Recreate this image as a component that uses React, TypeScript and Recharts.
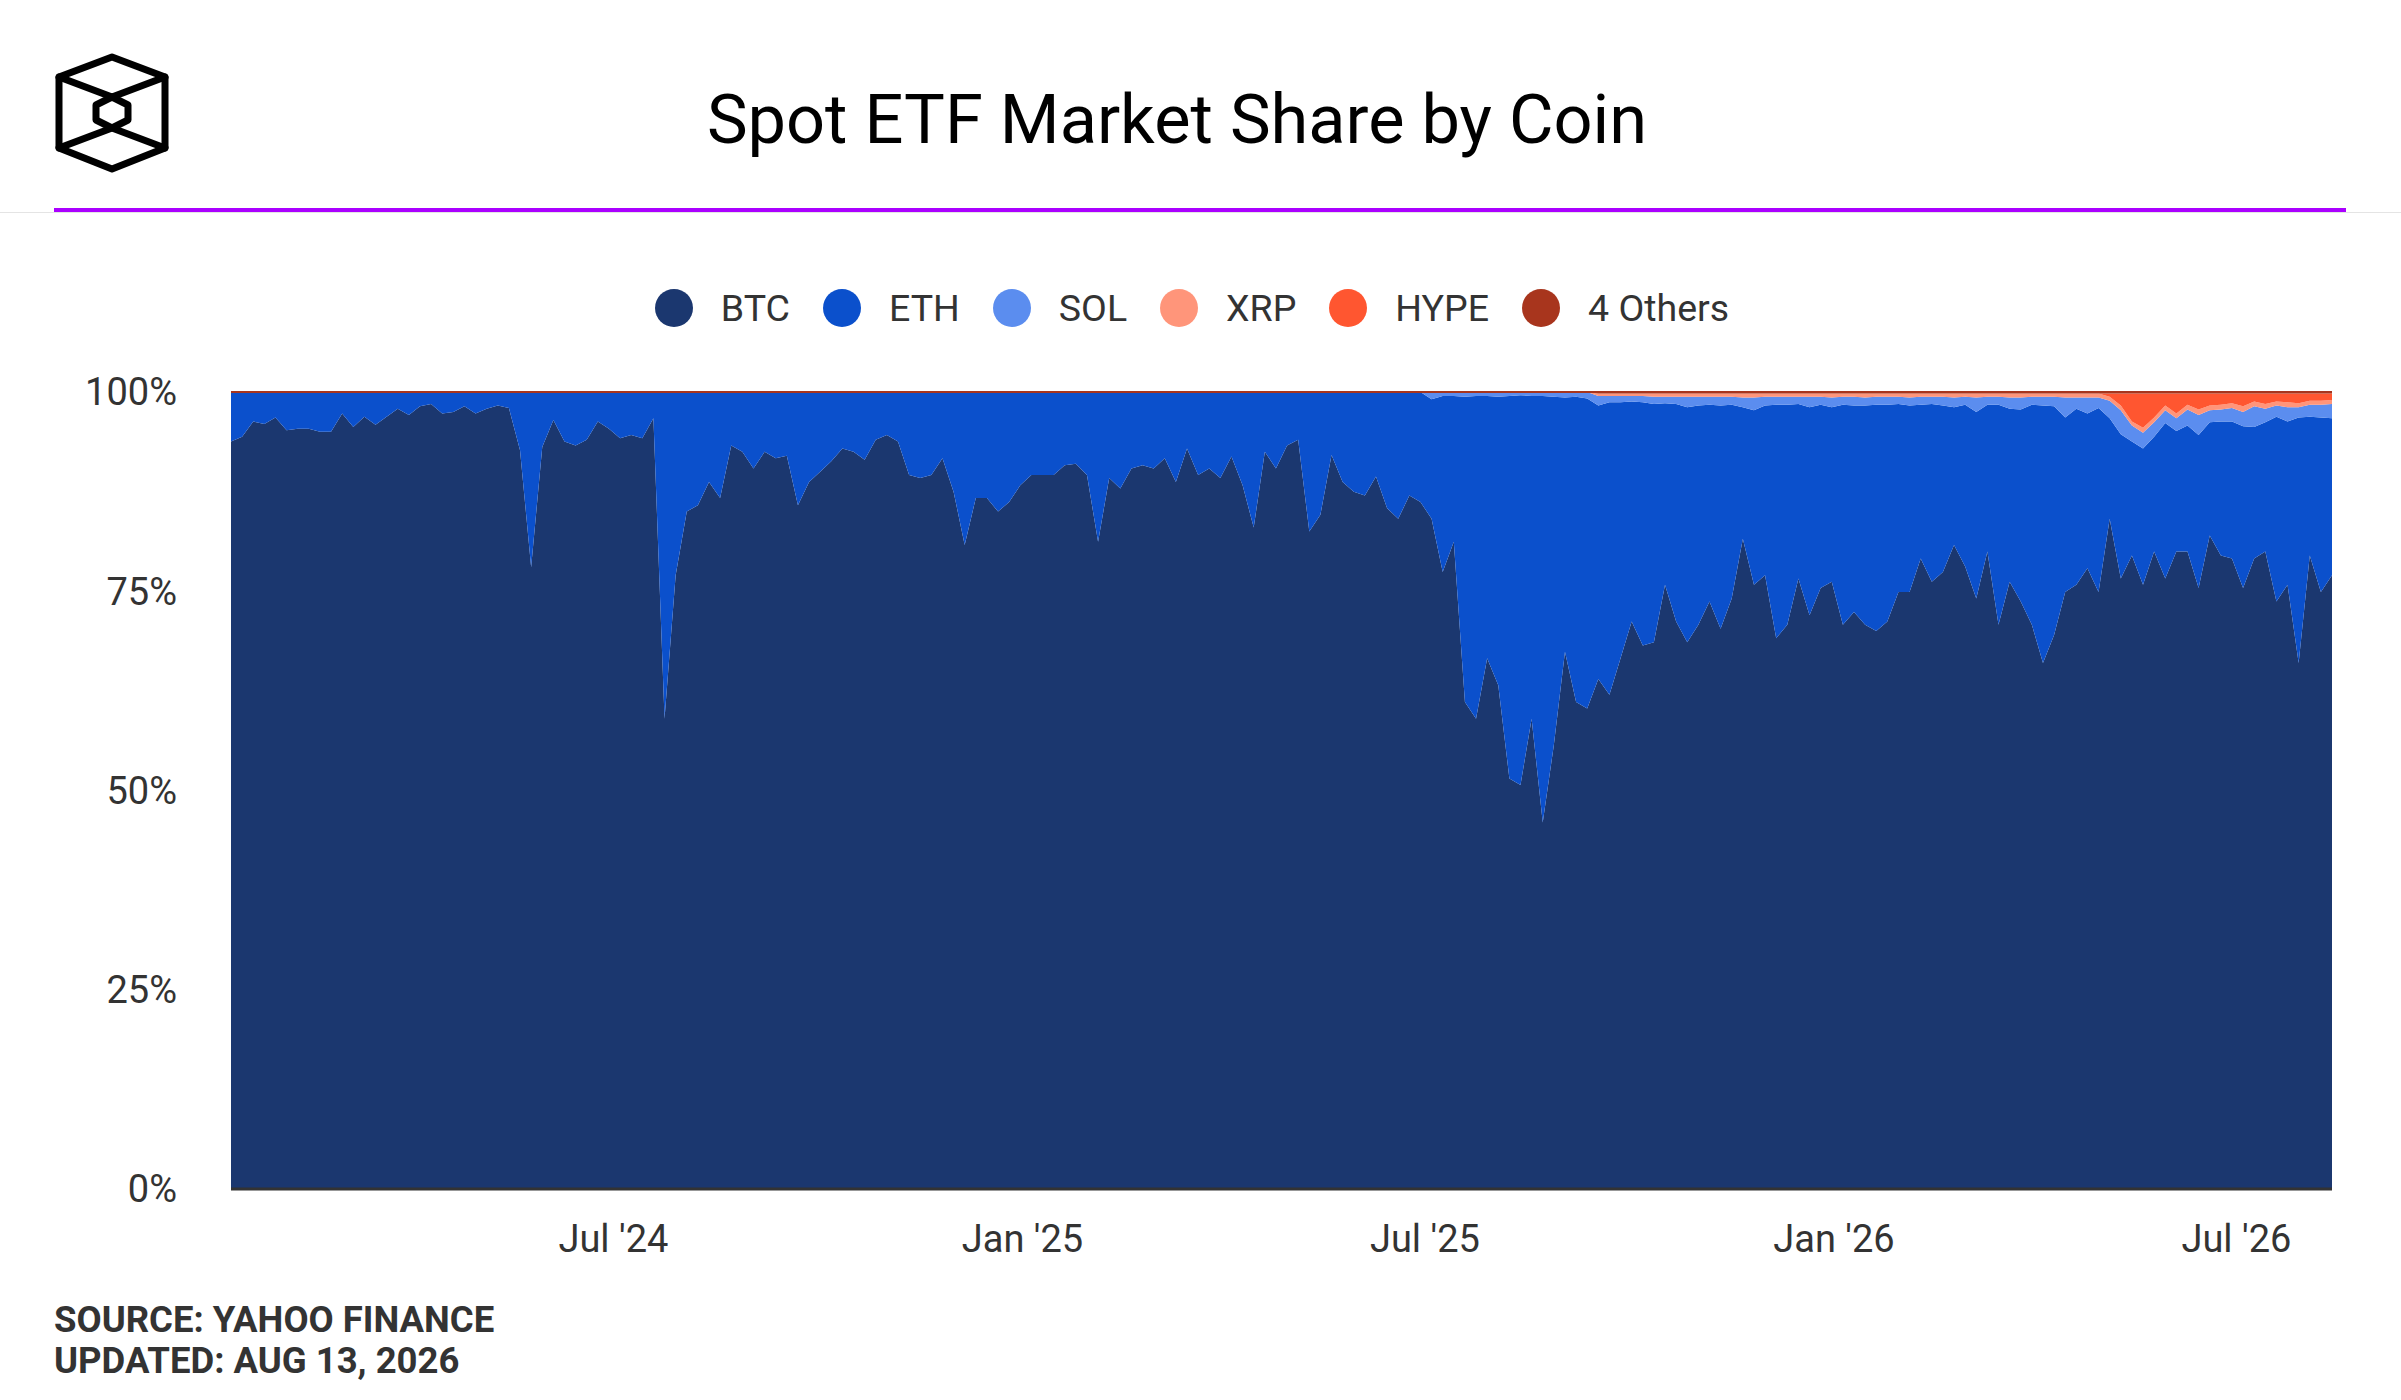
import { AreaChart, Area, XAxis, YAxis } from "recharts";

// one sample every 5 days, starting Jan 11 2024 (day 0) up to Aug 13 2026 (day 945)
const STEP_DAYS = 5;

// shares in %
const btc = [
  93.8, 94.4, 96.3, 96, 96.8, 95.2, 95.4, 95.4, 95, 95, 97.3, 95.6, 96.9, 95.9, 96.9, 97.9, 97.1, 98.2, 98.5, 97.3,
  97.5, 98.2, 97.3, 97.9, 98.3, 98, 92.7, 78, 93.1, 96.5, 93.8, 93.3, 94, 96.3, 95.4, 94.2, 94.6, 94.2, 96.7, 59,
  77, 85, 85.8, 88.7, 86.7, 93.3, 92.5, 90.4, 92.5, 91.7, 92, 85.8, 88.7, 90, 91.3, 92.9, 92.5, 91.5, 94, 94.6,
  93.8, 89.6, 89.2, 89.6, 91.7, 87.5, 80.8, 86.7, 86.7, 85, 86.2, 88.3, 89.6, 89.6, 89.6, 90.8, 91, 89.6, 81.2, 89.2,
  87.9, 90.4, 90.8, 90.4, 91.7, 88.7, 92.9, 89.6, 90.4, 89.2, 91.9, 88.3, 83, 92.5, 90.4, 93.3, 94, 82.5, 84.6, 92.1,
  88.7, 87.5, 87, 89.4, 85.4, 84.1, 87, 86.2, 84.1, 77.4, 81.2, 61.1, 59, 66.6, 63.2, 51.5, 50.7, 59, 46, 55.7,
  67.4, 61.1, 60.3, 64, 62, 66.6, 71.2, 68.2, 68.6, 75.8, 71.2, 68.6, 70.8, 73.7, 70.3, 74.1, 81.6, 75.8, 77, 69.1,
  70.8, 76.6, 72, 75.4, 76.2, 70.8, 72.4, 70.8, 70, 71.2, 74.9, 74.9, 79.1, 76.2, 77.4, 80.8, 78.1, 74.1, 80, 70.8,
  76.2, 73.7, 70.8, 66, 69.5, 74.9, 75.8, 77.9, 74.9, 84.1, 76.6, 79.5, 75.8, 80, 76.6, 80, 80, 75.4, 82, 79.5,
  79.1, 75.4, 79.1, 80, 73.7, 75.8, 66, 79.5, 74.9, 77,
];

const eth = [
  6.2, 5.6, 3.7, 4, 3.2, 4.8, 4.6, 4.6, 5, 5, 2.7, 4.4, 3.1, 4.1, 3.1, 2.1, 2.9, 1.8, 1.5, 2.7,
  2.5, 1.8, 2.7, 2.1, 1.7, 2, 7.3, 22, 6.9, 3.5, 6.2, 6.7, 6, 3.7, 4.6, 5.8, 5.4, 5.8, 3.3, 41,
  23, 15, 14.2, 11.3, 13.3, 6.7, 7.5, 9.6, 7.5, 8.3, 8, 14.2, 11.3, 10, 8.7, 7.1, 7.5, 8.5, 6, 5.4,
  6.2, 10.4, 10.8, 10.4, 8.3, 12.5, 19.2, 13.3, 13.3, 15, 13.8, 11.7, 10.4, 10.4, 10.4, 9.2, 9, 10.4, 18.8, 10.8,
  12.1, 9.6, 9.2, 9.6, 8.3, 11.3, 7.1, 10.4, 9.6, 10.8, 8.1, 11.7, 17, 7.5, 9.6, 6.7, 6, 17.5, 15.4, 7.9,
  11.3, 12.5, 13, 10.6, 14.6, 15.9, 13, 13.8, 15, 22.1, 18.3, 38.3, 40.5, 32.9, 36.2, 48, 48.9, 40.5, 53.5, 43.7,
  31.9, 38.3, 38.9, 34.3, 36.7, 32.1, 27.6, 30.5, 29.9, 22.8, 27.3, 29.5, 27.5, 24.7, 28, 24.3, 16.5, 21.9, 21.3, 29.3,
  27.6, 21.9, 26.1, 23, 21.9, 27.6, 25.9, 27.5, 28.4, 27.2, 23.6, 23.4, 19.3, 22.3, 20.9, 17.3, 20.3, 23.4, 18.4, 27.6,
  21.7, 24.1, 27.6, 32.3, 28.7, 21.9, 22.1, 19.4, 23.1, 12.6, 18.1, 14.3, 17.1, 14.4, 19.5, 15.1, 15.8, 19.2, 14.2, 16.8,
  17.2, 20.3, 16.5, 16.2, 23.2, 20.5, 30.8, 17.4, 21.9, 19.7,
];

const sol = [
  0, 0, 0, 0, 0, 0, 0, 0, 0, 0, 0, 0, 0, 0, 0, 0, 0, 0, 0, 0,
  0, 0, 0, 0, 0, 0, 0, 0, 0, 0, 0, 0, 0, 0, 0, 0, 0, 0, 0, 0,
  0, 0, 0, 0, 0, 0, 0, 0, 0, 0, 0, 0, 0, 0, 0, 0, 0, 0, 0, 0,
  0, 0, 0, 0, 0, 0, 0, 0, 0, 0, 0, 0, 0, 0, 0, 0, 0, 0, 0, 0,
  0, 0, 0, 0, 0, 0, 0, 0, 0, 0, 0, 0, 0, 0, 0, 0, 0, 0, 0, 0,
  0, 0, 0, 0, 0, 0, 0, 0, 0.9, 0.5, 0.5, 0.6, 0.5, 0.5, 0.6, 0.5, 0.4, 0.5, 0.5, 0.6,
  0.7, 0.6, 0.8, 1.2, 0.8, 0.8, 0.7, 0.8, 0.9, 0.8, 0.9, 1.3, 1.1, 1, 1.1, 1, 1.2, 1.6, 1.1, 1,
  1, 0.9, 1.3, 1, 1.2, 1, 1.1, 1, 1, 1, 0.9, 1, 1, 0.9, 1.1, 1.2, 1, 1.8, 1, 1,
  1.4, 1.5, 1, 1.1, 1.2, 2.5, 1.4, 2, 1.3, 2.2, 3, 2, 2, 1.8, 1.6, 1.6, 2, 2.5, 1.5, 1.5,
  1.7, 1.8, 2.6, 1.7, 1.4, 1.8, 1.3, 1.5, 1.6, 1.8,
];

const xrp = [
  0, 0, 0, 0, 0, 0, 0, 0, 0, 0, 0, 0, 0, 0, 0, 0, 0, 0, 0, 0,
  0, 0, 0, 0, 0, 0, 0, 0, 0, 0, 0, 0, 0, 0, 0, 0, 0, 0, 0, 0,
  0, 0, 0, 0, 0, 0, 0, 0, 0, 0, 0, 0, 0, 0, 0, 0, 0, 0, 0, 0,
  0, 0, 0, 0, 0, 0, 0, 0, 0, 0, 0, 0, 0, 0, 0, 0, 0, 0, 0, 0,
  0, 0, 0, 0, 0, 0, 0, 0, 0, 0, 0, 0, 0, 0, 0, 0, 0, 0, 0, 0,
  0, 0, 0, 0, 0, 0, 0, 0, 0, 0, 0, 0, 0, 0, 0, 0, 0, 0, 0, 0,
  0, 0, 0, 0.3, 0.3, 0.3, 0.3, 0.3, 0.4, 0.4, 0.4, 0.4, 0.4, 0.4, 0.4, 0.4, 0.5, 0.5, 0.4, 0.4,
  0.4, 0.4, 0.4, 0.4, 0.5, 0.4, 0.4, 0.5, 0.4, 0.4, 0.4, 0.5, 0.4, 0.4, 0.4, 0.5, 0.4, 0.5, 0.4, 0.4,
  0.5, 0.5, 0.4, 0.4, 0.4, 0.5, 0.5, 0.5, 0.5, 0.5, 0.6, 0.5, 0.6, 0.6, 0.6, 0.6, 0.6, 0.7, 0.6, 0.6,
  0.6, 0.7, 0.6, 0.6, 0.5, 0.6, 0.5, 0.5, 0.5, 0.5,
];

const hype = [
  0, 0, 0, 0, 0, 0, 0, 0, 0, 0, 0, 0, 0, 0, 0, 0, 0, 0, 0, 0,
  0, 0, 0, 0, 0, 0, 0, 0, 0, 0, 0, 0, 0, 0, 0, 0, 0, 0, 0, 0,
  0, 0, 0, 0, 0, 0, 0, 0, 0, 0, 0, 0, 0, 0, 0, 0, 0, 0, 0, 0,
  0, 0, 0, 0, 0, 0, 0, 0, 0, 0, 0, 0, 0, 0, 0, 0, 0, 0, 0, 0,
  0, 0, 0, 0, 0, 0, 0, 0, 0, 0, 0, 0, 0, 0, 0, 0, 0, 0, 0, 0,
  0, 0, 0, 0, 0, 0, 0, 0, 0, 0, 0, 0, 0, 0, 0, 0, 0, 0, 0, 0,
  0, 0, 0, 0, 0, 0, 0, 0, 0, 0, 0, 0, 0, 0, 0, 0, 0, 0, 0, 0,
  0, 0, 0, 0, 0, 0, 0, 0, 0, 0, 0, 0, 0, 0, 0, 0, 0, 0, 0, 0,
  0, 0, 0, 0, 0, 0, 0, 0, 0, 0.4, 1.5, 3.5, 4.3, 3, 1.5, 2.5, 1.4, 2, 1.5, 1.4,
  1.2, 1.6, 1, 1.3, 1, 1.1, 1.2, 0.9, 0.9, 0.8,
];

const others = [
  0, 0, 0, 0, 0, 0, 0, 0, 0, 0, 0, 0, 0, 0, 0, 0, 0, 0, 0, 0,
  0, 0, 0, 0, 0, 0, 0, 0, 0, 0, 0, 0, 0, 0, 0, 0, 0, 0, 0, 0,
  0, 0, 0, 0, 0, 0, 0, 0, 0, 0, 0, 0, 0, 0, 0, 0, 0, 0, 0, 0,
  0, 0, 0, 0, 0, 0, 0, 0, 0, 0, 0, 0, 0, 0, 0, 0, 0, 0, 0, 0,
  0, 0, 0, 0, 0, 0, 0, 0, 0, 0, 0, 0, 0, 0, 0, 0, 0, 0, 0, 0,
  0, 0, 0, 0, 0, 0, 0, 0, 0, 0, 0, 0, 0, 0, 0, 0, 0, 0, 0, 0,
  0, 0, 0, 0.2, 0.2, 0.2, 0.2, 0.2, 0.2, 0.2, 0.2, 0.2, 0.2, 0.2, 0.2, 0.2, 0.2, 0.2, 0.2, 0.2,
  0.2, 0.2, 0.2, 0.2, 0.2, 0.2, 0.2, 0.2, 0.2, 0.2, 0.2, 0.2, 0.2, 0.2, 0.2, 0.2, 0.2, 0.2, 0.2, 0.2,
  0.2, 0.2, 0.2, 0.2, 0.2, 0.2, 0.2, 0.2, 0.2, 0.2, 0.2, 0.2, 0.2, 0.2, 0.2, 0.2, 0.2, 0.2, 0.2, 0.2,
  0.2, 0.2, 0.2, 0.2, 0.2, 0.2, 0.2, 0.2, 0.2, 0.2,
];

// days since Jan 11 2024 of Jul 1 / Jan 1
const xTicks = [172, 356, 537, 721, 902];
const xTickLabels = ["Jul '24", "Jan '25", "Jul '25", "Jan '26", "Jul '26"];
const yTicks = [0, 0.25, 0.5, 0.75, 1];

const series = [
  { key: "btc", name: "BTC", color: "#1b376f" },
  { key: "eth", name: "ETH", color: "#0b50cc" },
  { key: "sol", name: "SOL", color: "#5b8def" },
  { key: "xrp", name: "XRP", color: "#ff957a" },
  { key: "hype", name: "HYPE", color: "#ff5630" },
  { key: "others", name: "4 Others", color: "#a8351d" },
];

const data = btc.map((v, i) => ({
  day: i * STEP_DAYS,
  btc: v,
  eth: eth[i],
  sol: sol[i],
  xrp: xrp[i],
  hype: hype[i],
  others: others[i],
}));

const Logo = () => (
  <svg
    width={200}
    height={200}
    style={{ position: "absolute", left: 0, top: 0 }}
  >
    <g fill='none' stroke='#000' strokeWidth={7} strokeLinejoin='round' strokeLinecap='round'>
      <polygon points='112,57 165,77 165,148 112,169 59,148 59,77' />
      <polygon points='112,97 128,105 128,120 112,128 96,120 96,105' />
      <polyline points='59,77 112,97 165,77' />
      <polyline points='59,148 112,128 165,148' />
    </g>
  </svg>
);

const App = () => {
  return (
    <div
      style={{
        position: "absolute",
        left: 0,
        top: 0,
        width: 2401,
        height: 1400,
        background: "#fff",
        overflow: "hidden",
        fontFamily: "Roboto, sans-serif",
      }}
    >
      <Logo />
      <div
        style={{
          position: "absolute",
          left: 0,
          top: 85,
          width: 2354,
          textAlign: "center",
          fontSize: 68.5,
          lineHeight: "70px",
          color: "#000",
        }}
      >
        Spot ETF Market Share by Coin
      </div>
      <div style={{ position: "absolute", left: 0, top: 212, width: 2401, height: 1, background: "#e4e4e4" }} />
      <div style={{ position: "absolute", left: 54, top: 208, width: 2292, height: 4, background: "#aa00ff" }} />

      <div
        style={{
          position: "absolute",
          left: 0,
          top: 288,
          width: 2384,
          height: 40,
          display: "flex",
          justifyContent: "center",
          alignItems: "center",
        }}
      >
        {series.map((s, i) => (
          <div
            key={s.key}
            style={{
              display: "flex",
              alignItems: "center",
              marginRight: i < series.length - 1 ? 33 : 0,
            }}
          >
            <div
              style={{
                width: 38,
                height: 38,
                borderRadius: "50%",
                background: s.color,
                marginRight: 28,
              }}
            />
            <span style={{ fontSize: 37.5, color: "#333" }}>{s.name}</span>
          </div>
        ))}
      </div>

      <div style={{ position: "absolute", left: 0, top: 0 }}>
        <AreaChart
          width={2401}
          height={1400}
          data={data}
          stackOffset='expand'
          margin={{ top: 392, right: 69, bottom: 151, left: 81 }}
        >
          <XAxis
            dataKey='day'
            type='number'
            domain={[0, 945]}
            ticks={xTicks}
            tickFormatter={(v) => xTickLabels[xTicks.indexOf(v)]}
            height={60}
            tickLine={false}
            tickSize={0}
            tickMargin={36}
            axisLine={{ stroke: "#333", strokeWidth: 3 }}
            tick={{ fontSize: 38, fill: "#333" }}
          />
          <YAxis
            domain={[0, 1]}
            ticks={yTicks}
            tickFormatter={(v) => `${Math.round(v * 100)}%`}
            width={150}
            tickLine={false}
            tickSize={0}
            tickMargin={54}
            axisLine={false}
            tick={{ fontSize: 38, fill: "#333" }}
          />
          {series.map((s) => (
            <Area
              key={s.key}
              type='linear'
              dataKey={s.key}
              name={s.name}
              stackId='1'
              fill={s.color}
              fillOpacity={1}
              stroke={s.key === "others" ? s.color : "none"}
              strokeWidth={s.key === "others" ? 2 : 0}
              dot={false}
              activeDot={false}
              isAnimationActive={false}
            />
          ))}
        </AreaChart>
      </div>

      <div
        style={{
          position: "absolute",
          left: 54,
          top: 1299,
          fontSize: 36.5,
          lineHeight: "41px",
          fontWeight: 700,
          color: "#333",
        }}
      >
        <div>SOURCE: YAHOO FINANCE</div>
        <div>UPDATED: AUG 13, 2026</div>
      </div>
    </div>
  );
};

export default App;
